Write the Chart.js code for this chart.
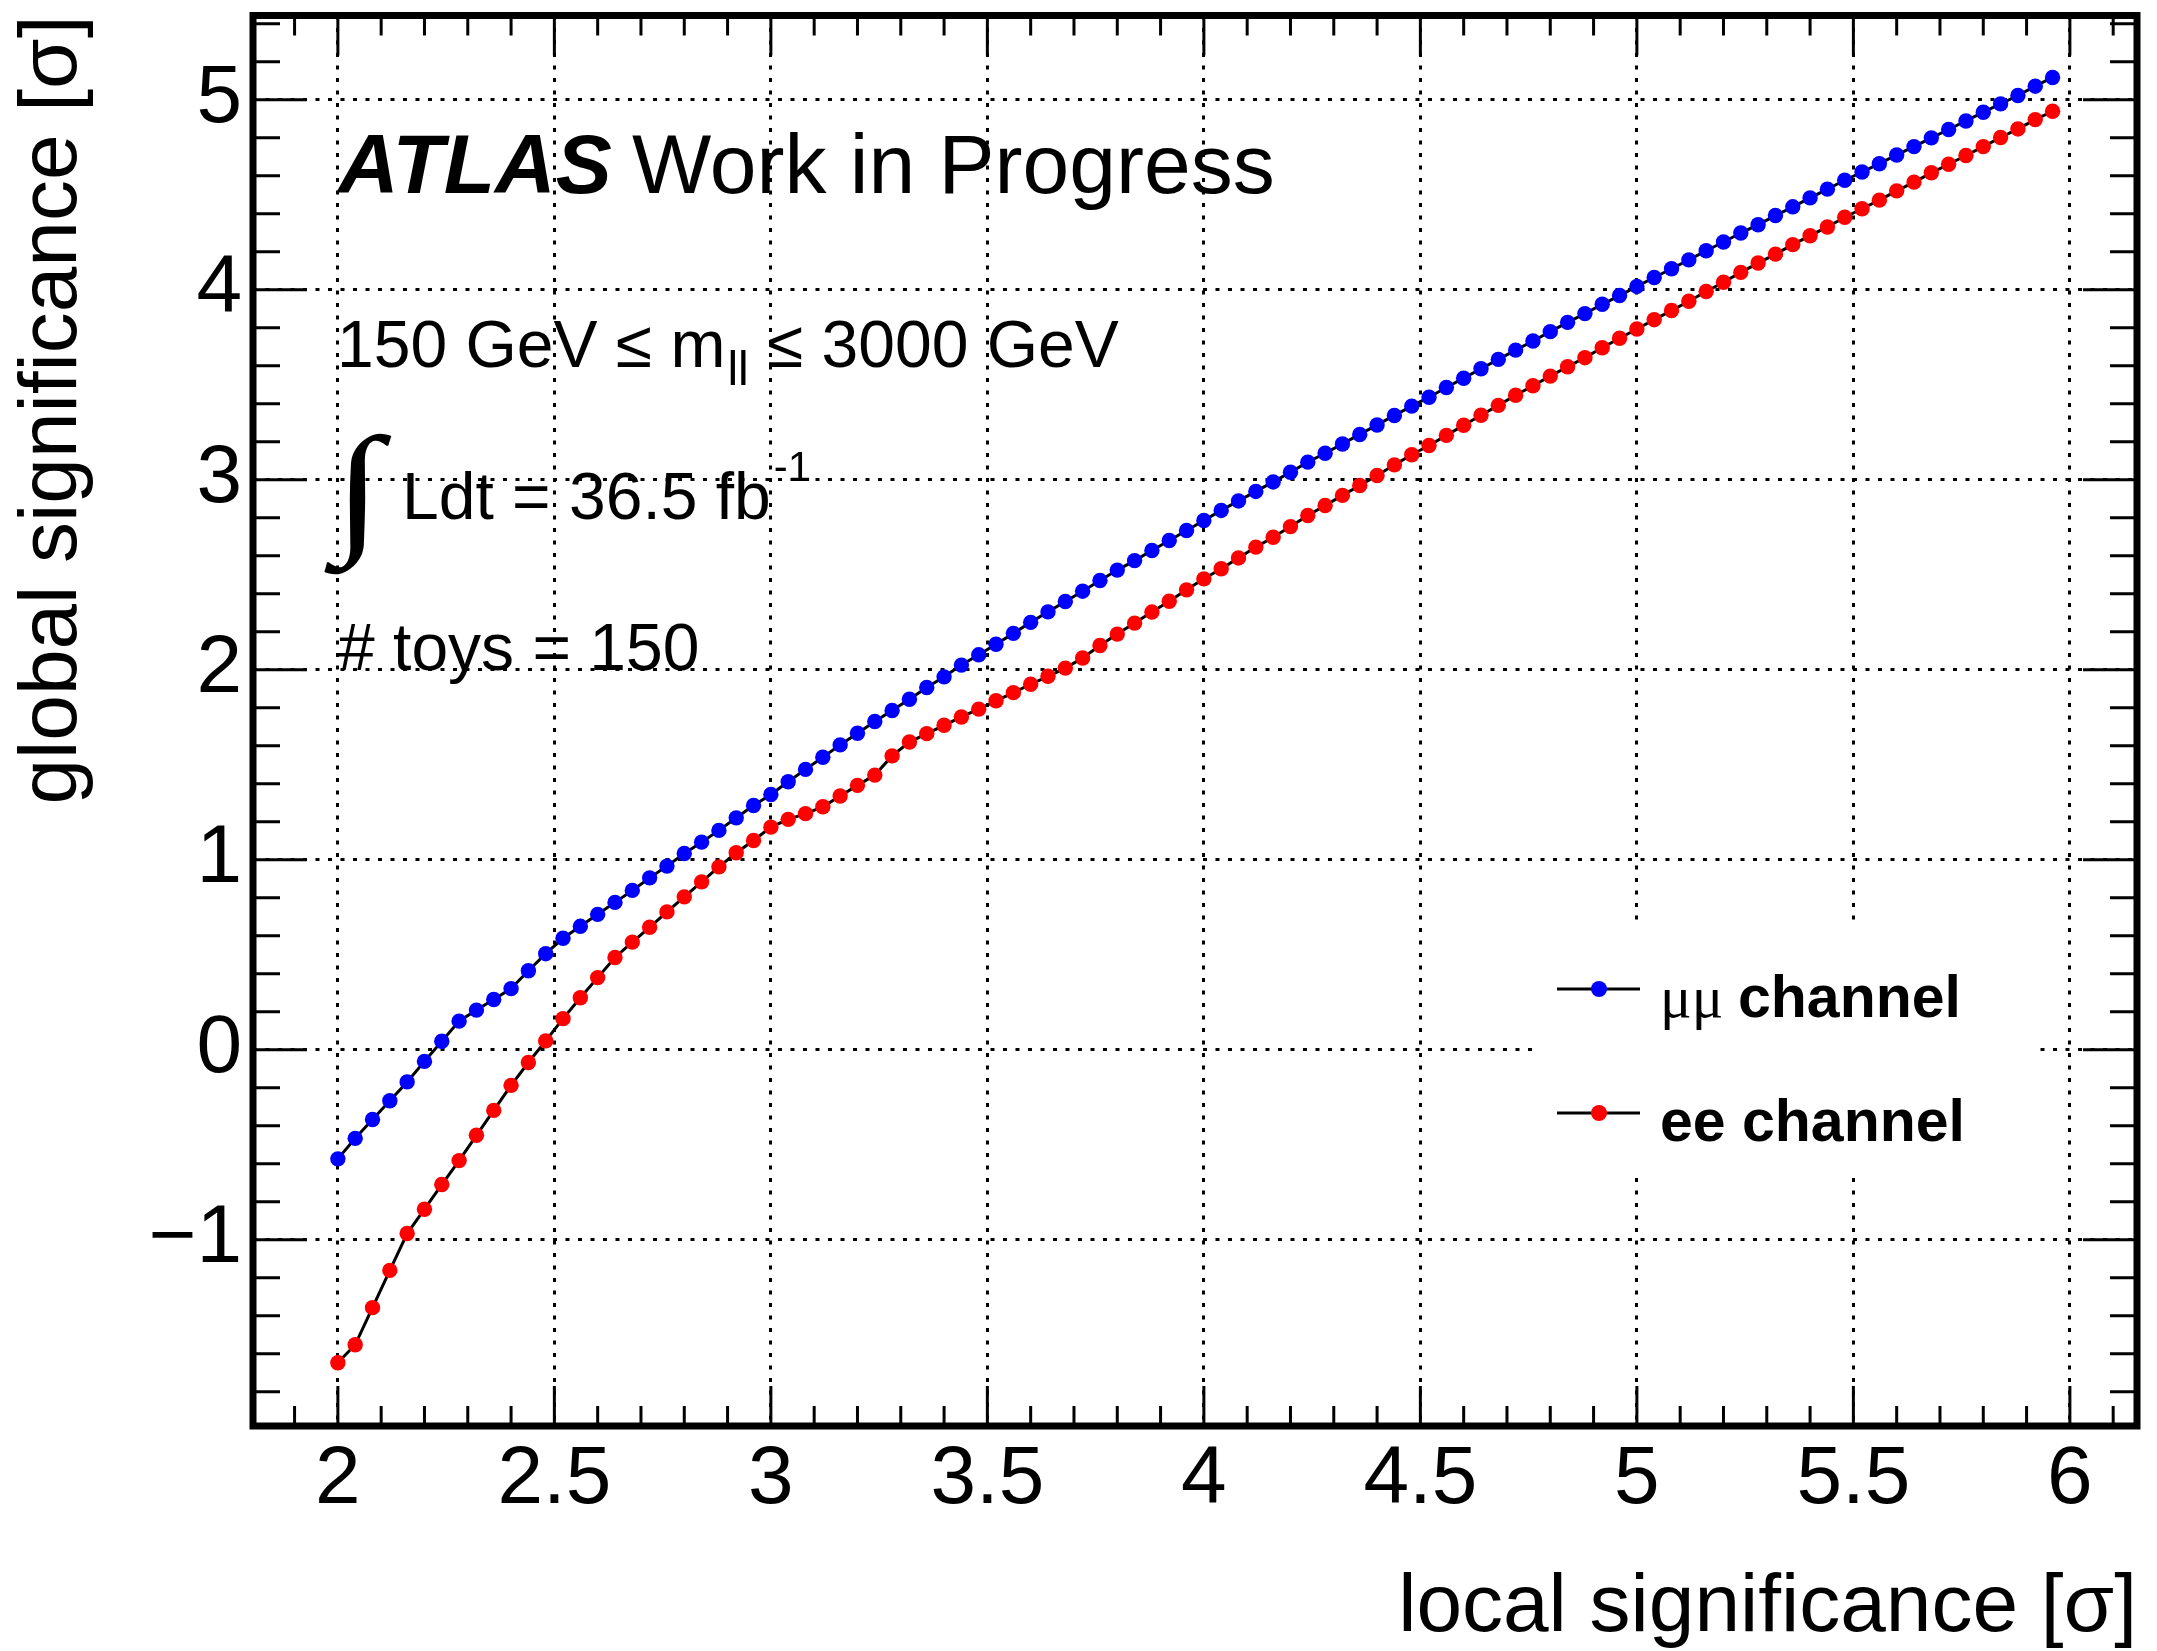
<!DOCTYPE html>
<html>
<head>
<meta charset="utf-8">
<script src="https://cdn.jsdelivr.net/npm/chart.js@4.4.1/dist/chart.umd.min.js"></script>
<style>
  html, body { margin: 0; padding: 0; background: #fff; }
  canvas { display: block; }
</style>
</head>
<body>
<canvas id="sigChart" width="2157" height="1651"></canvas>
<script>
// local significance scan points
const localSig = [
  2.00, 2.04, 2.08, 2.12, 2.16, 2.20, 2.24, 2.28, 2.32, 2.36,
  2.40, 2.44, 2.48, 2.52, 2.56, 2.60, 2.64, 2.68, 2.72, 2.76,
  2.80, 2.84, 2.88, 2.92, 2.96, 3.00, 3.04, 3.08, 3.12, 3.16,
  3.20, 3.24, 3.28, 3.32, 3.36, 3.40, 3.44, 3.48, 3.52, 3.56,
  3.60, 3.64, 3.68, 3.72, 3.76, 3.80, 3.84, 3.88, 3.92, 3.96,
  4.00, 4.04, 4.08, 4.12, 4.16, 4.20, 4.24, 4.28, 4.32, 4.36,
  4.40, 4.44, 4.48, 4.52, 4.56, 4.60, 4.64, 4.68, 4.72, 4.76,
  4.80, 4.84, 4.88, 4.92, 4.96, 5.00, 5.04, 5.08, 5.12, 5.16,
  5.20, 5.24, 5.28, 5.32, 5.36, 5.40, 5.44, 5.48, 5.52, 5.56,
  5.60, 5.64, 5.68, 5.72, 5.76, 5.80, 5.84, 5.88, 5.92, 5.96
];

// global significance, mumu channel
const globalMuMu = [
  -0.574, -0.466, -0.367, -0.268, -0.169, -0.061, 0.045, 0.151, 0.209, 0.265,
  0.322, 0.416, 0.506, 0.587, 0.650, 0.713, 0.776, 0.839, 0.905, 0.967,
  1.033, 1.093, 1.155, 1.221, 1.286, 1.344, 1.411, 1.476, 1.540, 1.605,
  1.666, 1.728, 1.786, 1.845, 1.907, 1.963, 2.025, 2.079, 2.135, 2.192,
  2.250, 2.305, 2.360, 2.414, 2.470, 2.525, 2.575, 2.628, 2.681, 2.733,
  2.786, 2.839, 2.889, 2.939, 2.989, 3.040, 3.093, 3.140, 3.189, 3.239,
  3.289, 3.339, 3.388, 3.435, 3.486, 3.535, 3.585, 3.634, 3.683, 3.731,
  3.780, 3.829, 3.875, 3.924, 3.970, 4.018, 4.065, 4.111, 4.158, 4.206,
  4.252, 4.299, 4.343, 4.391, 4.437, 4.484, 4.530, 4.577, 4.620, 4.664,
  4.710, 4.754, 4.800, 4.844, 4.889, 4.935, 4.979, 5.023, 5.072, 5.118
];

// global significance, ee channel
const globalEE = [
  -1.647, -1.552, -1.357, -1.161, -0.967, -0.839, -0.709, -0.583, -0.450, -0.319,
  -0.187, -0.067, 0.047, 0.164, 0.274, 0.380, 0.486, 0.567, 0.645, 0.726,
  0.805, 0.884, 0.963, 1.037, 1.102, 1.172, 1.213, 1.243, 1.279, 1.336,
  1.392, 1.446, 1.547, 1.620, 1.664, 1.708, 1.752, 1.793, 1.837, 1.880,
  1.924, 1.966, 2.009, 2.062, 2.128, 2.188, 2.246, 2.304, 2.361, 2.421,
  2.479, 2.532, 2.589, 2.646, 2.698, 2.754, 2.812, 2.865, 2.918, 2.970,
  3.023, 3.079, 3.132, 3.181, 3.234, 3.287, 3.340, 3.392, 3.445, 3.495,
  3.546, 3.595, 3.643, 3.695, 3.745, 3.794, 3.843, 3.891, 3.940, 3.991,
  4.040, 4.092, 4.141, 4.188, 4.238, 4.285, 4.331, 4.382, 4.427, 4.472,
  4.521, 4.567, 4.616, 4.661, 4.707, 4.754, 4.802, 4.847, 4.896, 4.940
];

const xTickValues = [2, 2.5, 3, 3.5, 4, 4.5, 5, 5.5, 6];
const yTickValues = [-1, 0, 1, 2, 3, 4, 5];

const SANS = '"Liberation Sans", Arial, Helvetica, sans-serif';
const SERIF = '"Liberation Serif", "Times New Roman", serif';

function fmt(v) {
  return String(v).replace('-', '\u2212');
}

// draw a list of text runs one after the other
function drawRuns(ctx, x, y, runs) {
  runs.forEach(r => {
    ctx.font = r.font;
    ctx.fillText(r.text, x, y + (r.dy || 0));
    x += ctx.measureText(r.text).width + (r.gap || 0);
  });
}

// keep the frame where ROOT put it: no extra room for edge labels
function fixSize(prop, size) {
  return s => {
    s[prop] = size;
    s.paddingTop = 0; s.paddingBottom = 0;
    s.paddingLeft = 0; s.paddingRight = 0;
  };
}

const rootStyle = {
  id: 'rootStyle',
  beforeDatasetsDraw(chart) {
    // legend box covers the grid
    const ctx = chart.ctx;
    ctx.save();
    ctx.fillStyle = '#fff';
    ctx.fillRect(1532, 928, 504, 250);
    ctx.restore();
  },
  afterDraw(chart) {
    const ctx = chart.ctx;
    const a = chart.chartArea;
    const xs = chart.scales.x, ys = chart.scales.y;
    ctx.save();
    ctx.strokeStyle = '#000';
    ctx.fillStyle = '#000';

    // tick marks on all four sides
    ctx.lineWidth = 3;
    ctx.beginPath();
    for (let k = 19; k <= 61; k++) {
      const px = xs.getPixelForValue(k / 10);
      const len = k % 5 === 0 ? 40 : 20;
      ctx.moveTo(px, a.bottom); ctx.lineTo(px, a.bottom - len);
      ctx.moveTo(px, a.top); ctx.lineTo(px, a.top + len);
    }
    for (let k = -9; k <= 27; k++) {
      const py = ys.getPixelForValue(k / 5);
      const len = k % 5 === 0 ? 54 : 27;
      ctx.moveTo(a.left, py); ctx.lineTo(a.left + len, py);
      ctx.moveTo(a.right, py); ctx.lineTo(a.right - len, py);
    }
    ctx.stroke();

    // frame
    ctx.lineWidth = 7;
    ctx.strokeRect(a.left, a.top, a.right - a.left, a.bottom - a.top);

    // labels
    ctx.textBaseline = 'alphabetic';
    ctx.textAlign = 'left';
    ctx.font = 'italic bold 84px ' + SANS;
    ctx.fillText('ATLAS', 338, 193);
    ctx.font = '84px ' + SANS;
    ctx.fillText('Work in Progress', 632, 193);

    drawRuns(ctx, 337, 367, [
      { text: '150 GeV \u2264 m', font: '66px ' + SANS, gap: 2 },
      { text: 'll', font: '48px ' + SANS, dy: 18 },
      { text: ' \u2264 3000 GeV', font: '66px ' + SANS }
    ]);

    // integral sign, fitted into its box
    ctx.font = '100px ' + SERIF;
    const m = ctx.measureText('\u222B');
    const gw = m.actualBoundingBoxLeft + m.actualBoundingBoxRight;
    const gh = m.actualBoundingBoxAscent + m.actualBoundingBoxDescent;
    ctx.save();
    ctx.translate(323, 433);
    ctx.scale(69 / gw, 142 / gh);
    ctx.fillText('\u222B', m.actualBoundingBoxLeft, m.actualBoundingBoxAscent);
    ctx.restore();

    drawRuns(ctx, 402, 519, [
      { text: 'Ldt = 36.5 fb', font: '66px ' + SANS, gap: 3 },
      { text: '-1', font: '42px ' + SANS, dy: -38 }
    ]);

    ctx.font = '66px ' + SANS;
    ctx.fillText('# toys = 150', 338, 670);

    // legend
    const entries = [
      { color: '#0000ff', y: 989, runs: [
        { text: '\u03BC\u03BC ', font: '59px ' + SERIF },
        { text: 'channel', font: 'bold 59px ' + SANS }
      ] },
      { color: '#ff0000', y: 1113, runs: [
        { text: 'ee channel', font: 'bold 59px ' + SANS }
      ] }
    ];
    entries.forEach(e => {
      ctx.lineWidth = 3;
      ctx.strokeStyle = '#000';
      ctx.beginPath();
      ctx.moveTo(1557, e.y); ctx.lineTo(1640, e.y);
      ctx.stroke();
      ctx.fillStyle = e.color;
      ctx.beginPath();
      ctx.arc(1599, e.y, 8, 0, Math.PI * 2);
      ctx.fill();
      ctx.fillStyle = '#000';
      drawRuns(ctx, 1660, e.y + 28, e.runs);
    });
    ctx.restore();
  }
};

const pointStyle = (color) => ({
  showLine: true,
  borderColor: '#000',
  borderWidth: 3,
  pointRadius: 7.7,
  pointBorderWidth: 0,
  pointBackgroundColor: color,
  pointHoverRadius: 7.7
});

new Chart(document.getElementById('sigChart'), {
  type: 'scatter',
  data: {
    datasets: [
      Object.assign({
        label: '\u03BC\u03BC channel',
        data: localSig.map((x, i) => ({ x: x, y: globalMuMu[i] }))
      }, pointStyle('#0000ff')),
      Object.assign({
        label: 'ee channel',
        data: localSig.map((x, i) => ({ x: x, y: globalEE[i] }))
      }, pointStyle('#ff0000'))
    ]
  },
  options: {
    responsive: false,
    devicePixelRatio: 1,
    animation: false,
    layout: { padding: { left: 0, right: 20, top: 15.5, bottom: 0 } },
    plugins: {
      legend: { display: false },
      tooltip: { enabled: false }
    },
    scales: {
      x: {
        type: 'linear',
        position: 'bottom',
        min: 1.804,
        max: 6.155,
        afterBuildTicks: s => { s.ticks = xTickValues.map(v => ({ value: v })); },
        afterFit: fixSize('height', 225),
        ticks: {
          autoSkip: false, maxRotation: 0, padding: 5, color: '#000',
          font: { family: SANS, size: 82 },
          callback: v => fmt(v)
        },
        grid: { color: '#000', lineWidth: 3, drawTicks: false },
        border: { display: false, dash: [4, 8.5] },
        title: {
          display: true, text: 'local significance [\u03C3]', align: 'end', color: '#000',
          font: { family: SANS, size: 82, lineHeight: 1 },
          padding: { top: 0, bottom: 1.4 }
        }
      },
      y: {
        type: 'linear',
        min: -1.98,
        max: 5.444,
        afterBuildTicks: s => { s.ticks = yTickValues.map(v => ({ value: v })); },
        afterFit: fixSize('width', 253),
        ticks: {
          autoSkip: false, padding: 11, color: '#000',
          font: { family: SANS, size: 82 },
          callback: v => fmt(v)
        },
        grid: { color: '#000', lineWidth: 3, drawTicks: false },
        border: { display: false, dash: [4, 8.5] },
        title: {
          display: true, text: 'global significance [\u03C3]', align: 'end', color: '#000',
          font: { family: SANS, size: 82, lineHeight: 1 },
          padding: { top: 12.6, bottom: 0 }
        }
      }
    }
  },
  plugins: [rootStyle]
});
</script>
</body>
</html>
